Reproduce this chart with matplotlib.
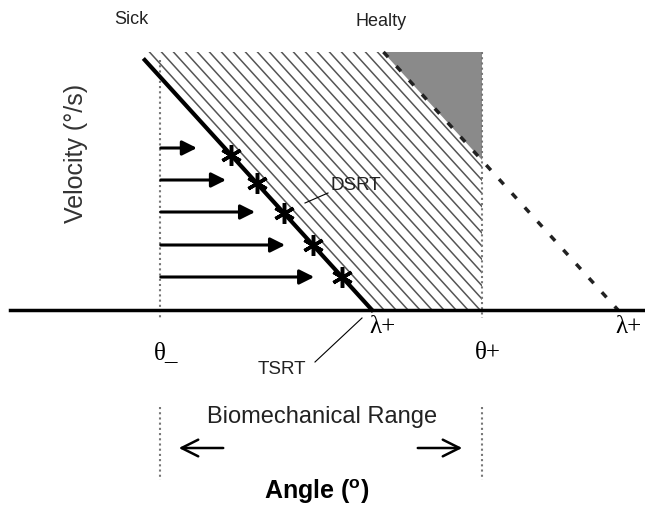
import matplotlib.pyplot as plt
import numpy as np
from matplotlib.patches import Polygon

# Schematic values (angle in px-like units, velocity up from the axis)
theta_minus = 160
theta_plus = 482
lambda_sick = 372      # TSRT crosses zero velocity
lambda_healthy = 618   # healthy threshold
slope = 1.1            # velocity drop per unit angle
v_top = 258            # top of the shaded region
arrow_v = [162, 130, 98, 65, 33]
star_v = [155, 127, 97, 65, 33]
hatch_step = 12

def tsrt_x(v, lam=lambda_sick):
    return lam - np.asarray(v) / slope

fig = plt.figure(figsize=(6.45, 5.08), dpi=100)
ax = fig.add_axes([0, 0, 1, 1])
ax.set_xlim(0, 645)
ax.set_ylim(-198, 310)
ax.axis("off")

# hatched zone between TSRT and theta+
x_top = tsrt_x(v_top)
zone = Polygon([(lambda_sick, 0), (x_top, v_top), (theta_plus, v_top), (theta_plus, 0)],
               closed=True, facecolor="none", edgecolor="none")
ax.add_patch(zone)
vv = np.array([-10, v_top + 10])
for k in range(1, 30):
    ln, = ax.plot(tsrt_x(vv) + k * hatch_step, vv, color="#555555", lw=1.1)
    ln.set_clip_path(zone)

# grey triangle (healthy zone beyond)
x_h_top = tsrt_x(v_top, lambda_healthy)
v_h_theta = (lambda_healthy - theta_plus) * slope
ax.add_patch(Polygon([(x_h_top, v_top), (theta_plus, v_top), (theta_plus, v_h_theta)],
                     closed=True, facecolor="#8a8a8a", edgecolor="none", zorder=3))

# dashed healthy line
ax.plot([x_h_top, lambda_healthy], [v_top, 0], color="#222222", lw=2.5,
        linestyle=(0, (2, 3.5)), zorder=4)

# vertical dotted limits
ax.plot([theta_minus, theta_minus], [250, -8], color="#777777", lw=1.5, linestyle=(0, (1, 1.5)))
ax.plot([theta_plus, theta_plus], [v_top, -8], color="#777777", lw=1.5, linestyle=(0, (1, 1.5)), zorder=4)

# angle axis
ax.plot([10, 645], [0, 0], color="black", lw=2.5, zorder=5)

# TSRT line
ax.plot(tsrt_x([250, 0]), [250, 0], color="black", lw=3, zorder=5)

# arrows and stars
for v in arrow_v:
    ax.annotate("", xy=(tsrt_x(v) - 25, v), xytext=(theta_minus - 2, v),
                arrowprops=dict(arrowstyle="-|>", color="black", lw=2.2, mutation_scale=22))
ax.plot(tsrt_x(star_v), star_v, linestyle="none", marker=(6, 2, 0), markersize=15,
        color="black", markeredgewidth=2.5, zorder=6)

# labels
sans = "Liberation Sans"
serif = "Liberation Serif"
ax.text(131, 290, "Sick", fontsize=13, family=sans, ha="center", va="center", color="#222222")
ax.text(381, 288, "Healty", fontsize=13, family=sans, ha="center", va="center", color="#222222")
ax.text(76, 157, "Velocity (°/s)", fontsize=18, family=sans, rotation=90,
        ha="center", va="center", color="#333333")
ax.text(356, 125, "DSRT", fontsize=13.5, family=sans, ha="center", va="center", color="#222222")
ax.plot([328, 305], [117, 107], color="black", lw=0.8)
ax.text(282, -60, "TSRT", fontsize=13.5, family=sans, ha="center", va="center", color="#222222")
ax.plot([315, 362], [-52, -8], color="black", lw=0.8)

ax.text(theta_minus - 6, -43, "θ_", fontsize=18, family=serif, ha="left", va="center")
ax.text(lambda_sick + 10, -17, "λ+", fontsize=18, family=serif, ha="center", va="center")
ax.text(theta_plus + 6, -43, "θ+", fontsize=18, family=serif, ha="center", va="center")
ax.text(628, -17, "λ+", fontsize=18, family=serif, ha="center", va="center")

# biomechanical range
ax.plot([theta_minus, theta_minus], [-97, -170], color="#777777", lw=1.5, linestyle=(0, (1, 1.5)))
ax.plot([theta_plus, theta_plus], [-97, -170], color="#777777", lw=1.5, linestyle=(0, (1, 1.5)))
ax.text(322, -107, "Biomechanical Range", fontsize=17, family=sans, ha="center", va="center",
        color="#222222")
ax.annotate("", xy=(176, -138), xytext=(226, -138),
            arrowprops=dict(arrowstyle="->", color="black", lw=1.8, mutation_scale=30))
ax.annotate("", xy=(465, -138), xytext=(415, -138),
            arrowprops=dict(arrowstyle="->", color="black", lw=1.8, mutation_scale=30))
ax.text(317, -182, "Angle ($^{\\mathregular{o}}$)", fontsize=18, family=sans, weight="bold",
        ha="center", va="center")

fig.savefig("out.png", dpi=100)
